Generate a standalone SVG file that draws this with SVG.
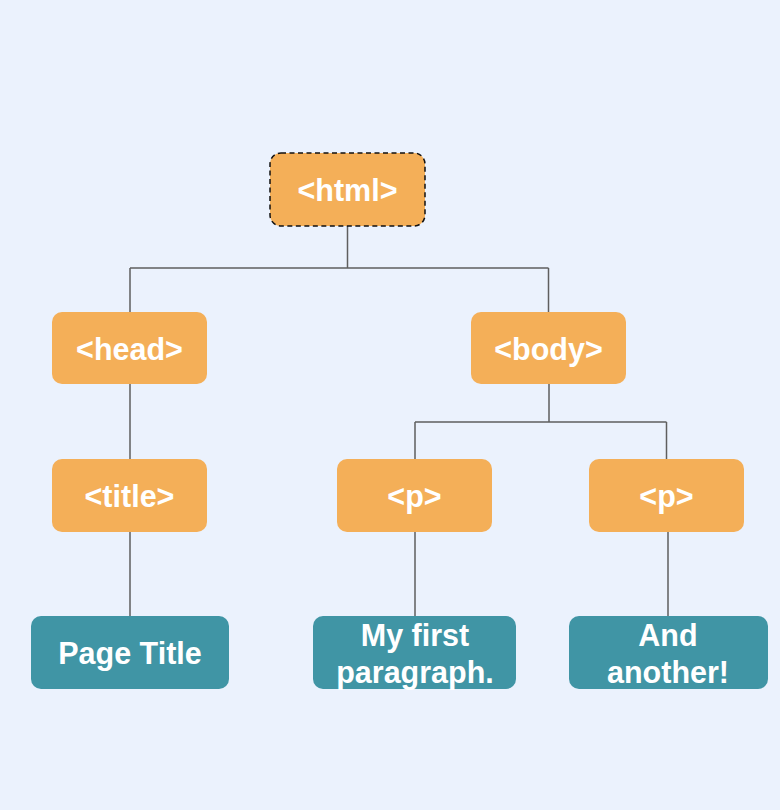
<svg xmlns="http://www.w3.org/2000/svg" width="780" height="810" viewBox="0 0 780 810">
<style>
.bg{fill:#EBF2FD}
.tag{fill:#F4AF58}
.leaf{fill:#4095A5}
.t{font-family:"Liberation Sans",Arial,sans-serif;font-weight:bold;font-size:30.5px;fill:#FFFFFF;text-anchor:middle}
.c{fill:none;stroke:#5F5F5F;stroke-width:1.5}
</style>
<rect class="bg" x="0" y="0" width="780" height="810"/>
<g id="connectors">
<path class="c" d="M347.5 226 V268 M130 268 H548.5 M130 268 V312 M548.5 268 V312"/>
<path class="c" d="M130 384 V459 M130 532 V616"/>
<path class="c" d="M549 384 V422 M415 422 H666.5 M415 422 V459 M666.5 422 V459"/>
<path class="c" d="M415 532 V616 M668 532 V616"/>
</g>
<g id="html">
<rect class="tag" x="270" y="153" width="155" height="73" rx="11" stroke="#111" stroke-width="1.5" stroke-dasharray="5 3.5"/>
<text class="t" x="347.5" y="200.5">&lt;html&gt;</text>
</g>
<g id="head">
<rect class="tag" x="52" y="312" width="155" height="72" rx="10"/>
<text class="t" x="129.5" y="359.5">&lt;head&gt;</text>
</g>
<g id="body">
<rect class="tag" x="471" y="312" width="155" height="72" rx="10"/>
<text class="t" x="548.5" y="359.5">&lt;body&gt;</text>
</g>
<g id="title">
<rect class="tag" x="52" y="459" width="155" height="73" rx="10"/>
<text class="t" x="129.5" y="506.5">&lt;title&gt;</text>
</g>
<g id="p1">
<rect class="tag" x="337" y="459" width="155" height="73" rx="10"/>
<text class="t" x="414.5" y="506.5">&lt;p&gt;</text>
</g>
<g id="p2">
<rect class="tag" x="589" y="459" width="155" height="73" rx="10"/>
<text class="t" x="666.5" y="506.5">&lt;p&gt;</text>
</g>
<g id="pagetitle">
<rect class="leaf" x="31" y="616" width="198" height="73" rx="10"/>
<text class="t" x="130" y="664">Page Title</text>
</g>
<g id="para1">
<rect class="leaf" x="313" y="616" width="203" height="73" rx="10"/>
<text class="t" x="415" y="646">My first</text>
<text class="t" x="415" y="683">paragraph.</text>
</g>
<g id="para2">
<rect class="leaf" x="569" y="616" width="199" height="73" rx="10"/>
<text class="t" x="668" y="646">And</text>
<text class="t" x="668" y="683">another!</text>
</g>
</svg>
